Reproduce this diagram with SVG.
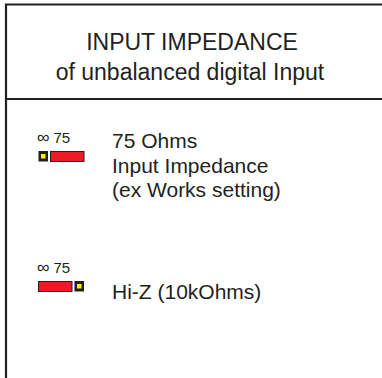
<svg xmlns="http://www.w3.org/2000/svg" width="382" height="378" viewBox="0 0 382 378">
<style>
.t{font-family:"Liberation Sans",Arial,sans-serif;fill:#231f20}
.title{font-size:23px;text-anchor:middle}
.body{font-size:21px}
.small{font-size:15px}
.inf{font-size:17.5px}
.ln{stroke:#231f20;stroke-width:2.2;fill:none}
.red{fill:#ed1c24;stroke:#231f20;stroke-width:1}
.blk{fill:#231f20}
.yel{fill:#fff200}
</style>
<g id="frame">
<path class="ln" d="M6,378 V4.5 H382"/>
<path class="ln" d="M6,99 H382"/>
</g>
<g id="header">
<text class="t title" x="192" y="50">INPUT IMPEDANCE</text>
<text class="t title" x="190" y="80">of unbalanced digital Input</text>
</g>
<g id="jumper75">
<text class="t inf" x="37" y="143">∞</text>
<text class="t small" x="53.5" y="143">75</text>
<rect class="blk" x="38.5" y="151" width="9.5" height="10.5"/>
<rect class="yel" x="41" y="154" width="4.5" height="4.5"/>
<rect class="red" x="50.5" y="151.5" width="33.5" height="10"/>
</g>
<g id="text75">
<text class="t body" x="112" y="148">75 Ohms</text>
<text class="t body" x="112" y="172.5">Input Impedance</text>
<text class="t body" x="112" y="197">(ex Works setting)</text>
</g>
<g id="jumperHiZ">
<text class="t inf" x="37" y="273">∞</text>
<text class="t small" x="53.5" y="273">75</text>
<rect class="red" x="38.5" y="281.5" width="33.5" height="10"/>
<rect class="blk" x="74.5" y="281" width="9.5" height="10.5"/>
<rect class="yel" x="77" y="284" width="4.5" height="4.5"/>
</g>
<g id="textHiZ">
<text class="t body" x="112" y="299">Hi-Z (10kOhms)</text>
</g>
<g id="connectors"/>
</svg>
